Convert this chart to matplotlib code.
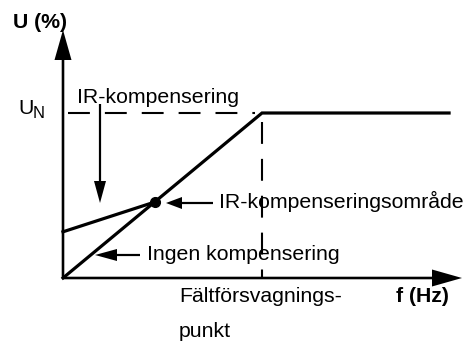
import matplotlib
matplotlib.use('Agg')
import matplotlib.pyplot as plt

plt.rcParams['font.family'] = ['Liberation Sans', 'DejaVu Sans']

# U/f-kurva: utan kompensering (f i Hz, U i % av U_N)
f_ingen = [0, 50, 97]
u_ingen = [0, 100, 100]

# IR-kompenserad del upp till skärningspunkten
f_ir = [0, 23]
u_ir = [28, 46]

f_falt = 50      # fältförsvagningspunkt
u_n = 100        # nominell spänning

# skala: pixlar per enhet
PX_F = 3.98
PX_U = 1.65


def fx(px):
    return (px - 63) / PX_F


def uy(py):
    return (278 - py) / PX_U


fig = plt.figure(figsize=(4.69, 3.5), dpi=100)
ax = fig.add_axes([0, 0, 1, 1])
ax.set_xlim(fx(0), fx(469))
ax.set_ylim(uy(350), uy(0))
ax.axis('off')


def pil(x0, y0, x1, y1, lw_px, hl_px, hw_px):
    # axelparallell pil med fylld spets, storlekar i pixlar
    dx, dy = x1 - x0, y1 - y0
    if dy == 0:
        w, hw, hl = lw_px / PX_U, hw_px / PX_U, hl_px / PX_F
    else:
        w, hw, hl = lw_px / PX_F, hw_px / PX_F, hl_px / PX_U
    ax.arrow(x0, y0, dx, dy, width=w, head_width=hw, head_length=hl,
             length_includes_head=True, color='black', lw=0, zorder=5)


# axlar
pil(0, 0, 0, uy(30), 2.6, 30, 17)
pil(0, 0, fx(462), 0, 2.6, 30, 17)

# streckade hjälplinjer
ax.plot([1.3, f_falt - 1.8], [u_n, u_n], color='black', lw=1.5,
        dashes=[10.5, 7.2], zorder=2)
ax.plot([f_falt, f_falt], [u_n - 5.5, 0], color='black', lw=1.5,
        dashes=[10.5, 7.2], zorder=2)

# kurvor
ax.plot(f_ingen, u_ingen, color='black', lw=2.3, solid_joinstyle='miter', zorder=3)
ax.plot(f_ir, u_ir, color='black', lw=2.3, zorder=3)
ax.plot(f_ir[-1], u_ir[-1], 'o', color='black', ms=7, zorder=4)

fs = 15.3
# etiketter
ax.text(fx(13), uy(28), 'U (%)', fontsize=fs, fontweight='bold', ha='left', va='baseline')
ax.text(fx(18), uy(114), 'U', fontsize=fs, ha='left', va='baseline')
ax.text(fx(33), uy(118), 'N', fontsize=12, ha='left', va='baseline')
ax.text(fx(77), uy(103), 'IR-kompensering', fontsize=fs, ha='left', va='baseline')
pil(fx(100), uy(104), fx(100), uy(203), 2.2, 22, 12)

pil(fx(213), uy(203), fx(166), uy(203), 2.2, 16, 12)
ax.text(fx(219), uy(208), 'IR-kompenseringsområde', fontsize=fs, ha='left', va='baseline')

pil(fx(140), uy(255), fx(95), uy(255), 2.2, 22, 12)
ax.text(fx(147), uy(260), 'Ingen kompensering', fontsize=fs, ha='left', va='baseline')

ax.text(fx(179), uy(302), 'Fältförsvagnings-', fontsize=fs, ha='left', va='baseline')
ax.text(fx(179), uy(337), 'punkt', fontsize=fs, ha='left', va='baseline')
ax.text(fx(449), uy(302), 'f (Hz)', fontsize=fs, fontweight='bold', ha='right', va='baseline')

fig.savefig('out.png', dpi=100)
